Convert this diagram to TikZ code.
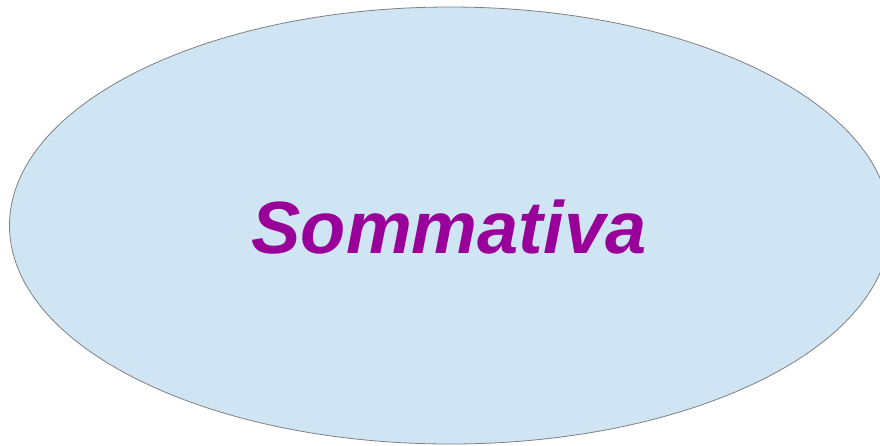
\documentclass[tikz,border=0pt]{standalone}
\usepackage{fontspec}
\setmainfont{Liberation Sans}
\definecolor{ellfill}{HTML}{CFE5F3}
\definecolor{ellline}{HTML}{808080}
\definecolor{txtpurple}{HTML}{990099}
\tikzset{bubble/.style={fill=ellfill,draw=ellline,line width=0.8pt},
  label/.style={text=txtpurple,font=\fontsize{74}{74}\selectfont\bfseries\itshape,inner sep=0pt,anchor=base}}
\begin{document}
\begin{tikzpicture}[x=1pt,y=-1pt]
\useasboundingbox (0,0) rectangle (880,445);
\clip (0,0) rectangle (880,445);
\fill[white] (0,0) rectangle (880,445);
\draw[bubble] (450,225.5) ellipse [x radius=440.5, y radius=218.5];
\node[label] (t) at (449,253) {Sommativa};
\end{tikzpicture}
\end{document}
